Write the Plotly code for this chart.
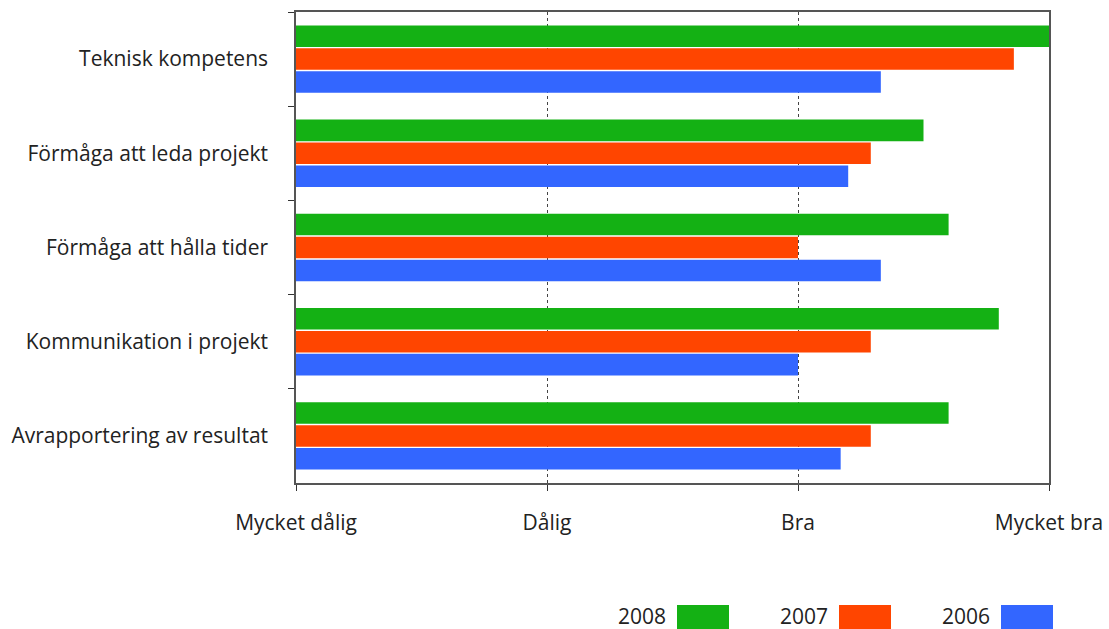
import plotly.graph_objects as go

categories = ["Teknisk kompetens", "Förmåga att leda projekt", "Förmåga att hålla tider",
              "Kommunikation i projekt", "Avrapportering av resultat"]
years = ["2008", "2007", "2006"]
values_2008 = [4.0, 3.50, 3.60, 3.80, 3.60]
values_2007 = [3.86, 3.29, 3.00, 3.29, 3.29]
values_2006 = [3.33, 3.20, 3.33, 3.00, 3.17]
colors = ["#14b114", "#ff4500", "#3366ff"]
x_tickvals = [1, 2, 3, 4]
x_ticktext = ["Mycket dålig", "Dålig", "Bra", "Mycket bra"]
base_value = 1

series = [values_2008, values_2007, values_2006]

fig = go.Figure()
for name, vals, col in zip(years, series, colors):
    fig.add_trace(go.Bar(
        y=categories, x=[v - base_value for v in vals], base=base_value,
        orientation="h", name=name, marker=dict(color=col, line=dict(width=0)),
        showlegend=False,
    ))

font_family = "Open Sans, Noto Sans, sans-serif"
fig.update_layout(
    width=1109, height=629,
    margin=dict(l=296, r=60, t=12, b=146, autoexpand=False),
    paper_bgcolor="white", plot_bgcolor="white",
    barmode="group", bargap=0.27, bargroupgap=0.06,
    font=dict(family=font_family, size=21, color="#222"),
)
fig.update_xaxes(
    range=[1, 4], tickvals=x_tickvals, ticktext=x_ticktext,
    showgrid=True, gridcolor="#444", griddash="dot", gridwidth=1,
    showline=True, linecolor="#555", linewidth=1.5, mirror=True,
    ticks="outside", ticklen=6, tickcolor="#333",
    ticklabelstandoff=14, zeroline=False, automargin=False,
)
fig.update_yaxes(
    autorange="reversed", type="category", tickson="boundaries",
    showline=True, linecolor="#555", linewidth=1.5, mirror=True,
    ticks="outside", ticklen=6, tickcolor="#333",
    ticklabelstandoff=22, showgrid=False, automargin=False,
)

# Legend: text followed by swatch
legend_x_text = [668, 830, 992]
for yr, col, xt in zip(years, colors, legend_x_text):
    fig.add_annotation(
        xref="paper", yref="paper",
        x=(xt - 296) / (1109 - 296 - 60), y=-(616 - 483) / (483 - 12),
        text=yr, showarrow=False, xanchor="right", yanchor="middle",
        font=dict(size=21, color="#222"),
    )
    x0 = (xt + 9 - 296) / (1109 - 296 - 60)
    x1 = (xt + 61 - 296) / (1109 - 296 - 60)
    fig.add_shape(
        type="rect", xref="paper", yref="paper",
        x0=x0, x1=x1, y0=-(640 - 483) / (483 - 12), y1=-(605 - 483) / (483 - 12),
        fillcolor=col, line=dict(width=0),
    )

fig.write_html("out.html")
